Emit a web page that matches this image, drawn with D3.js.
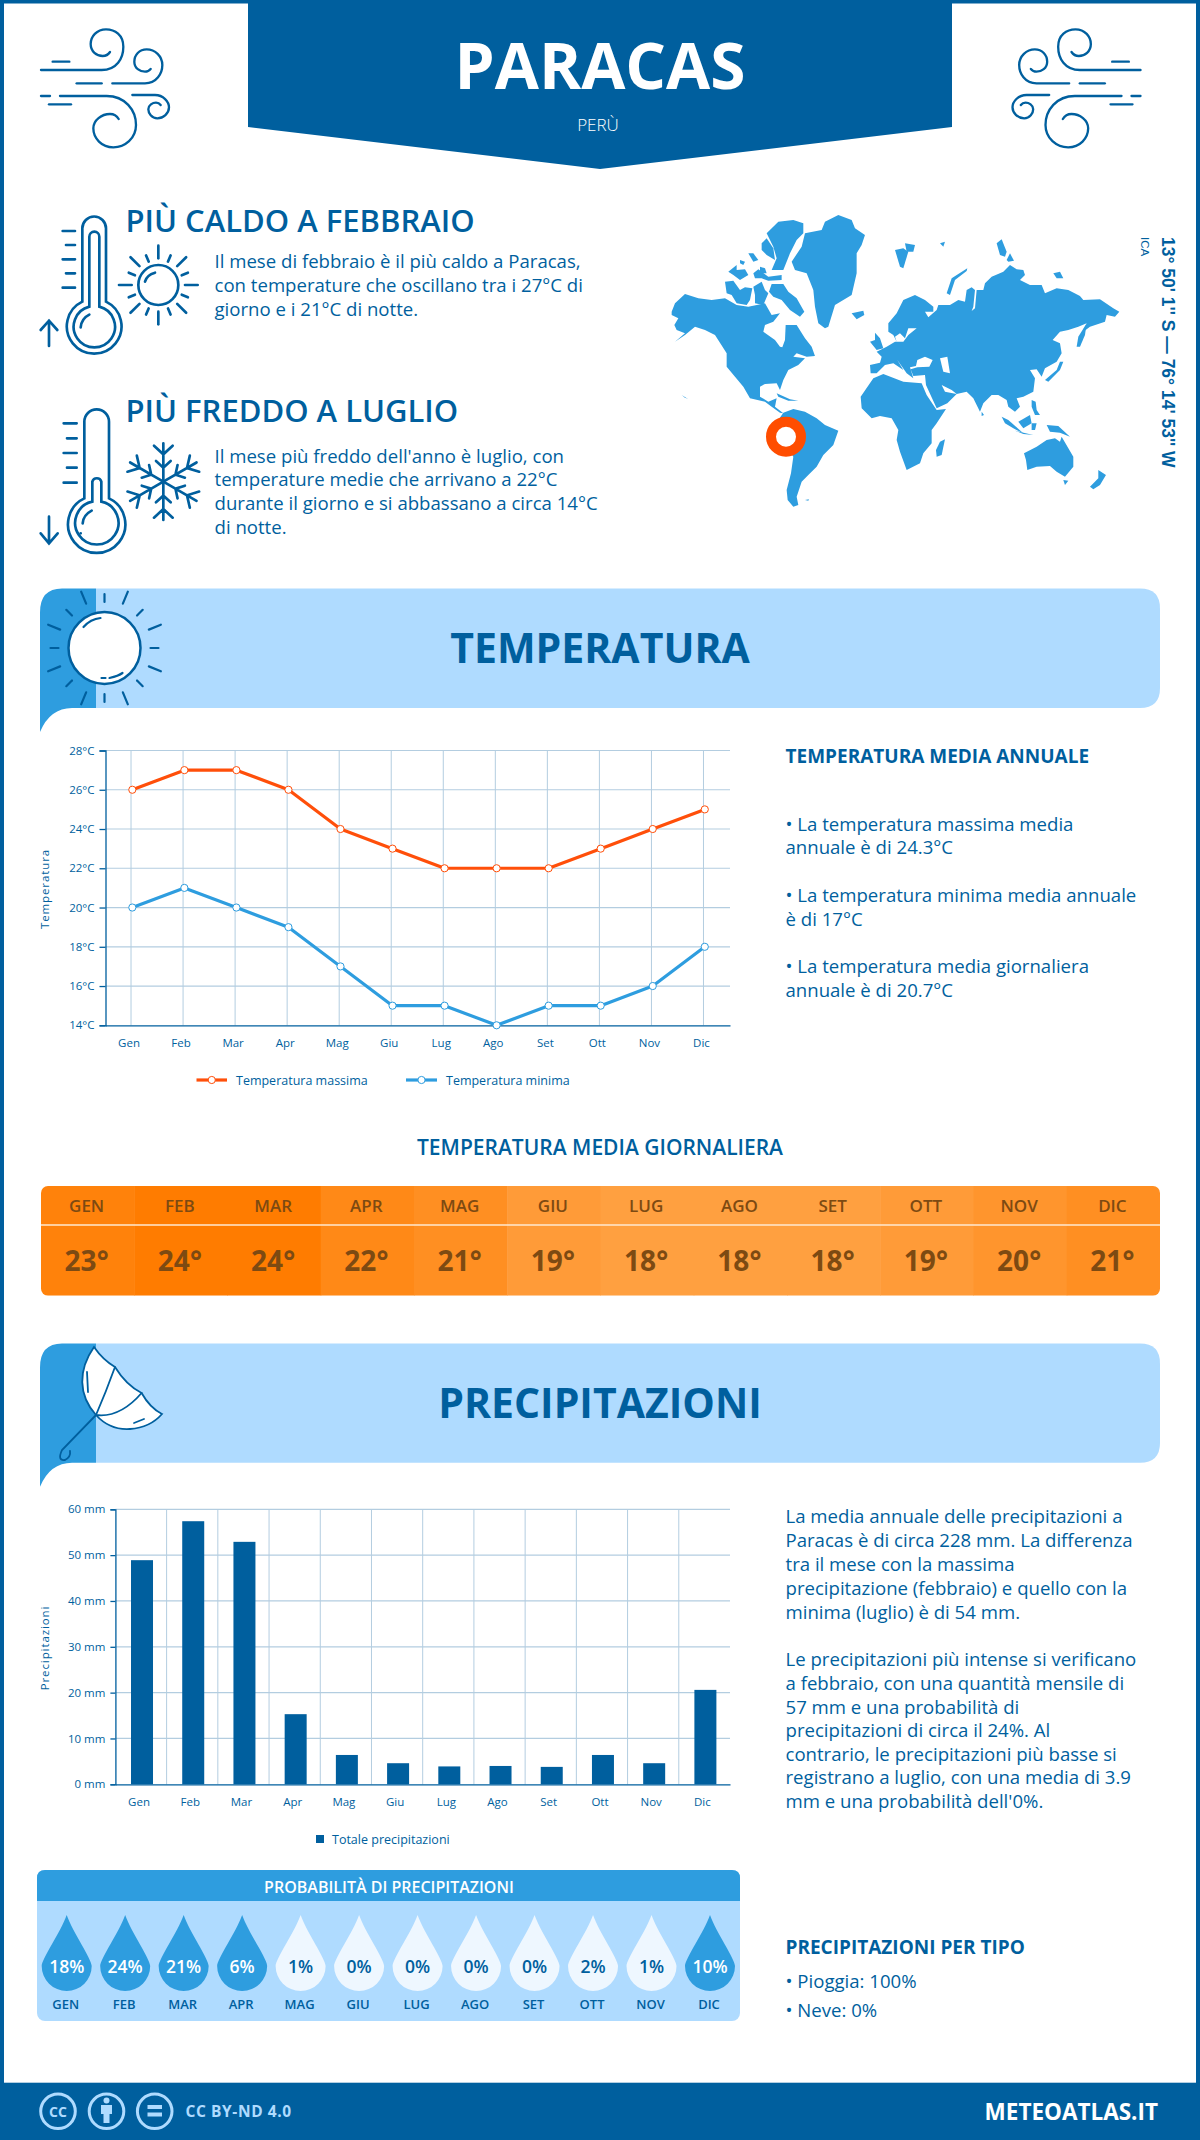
<!DOCTYPE html>
<html>
<head>
<meta charset="utf-8">
<title>Paracas</title>
<script src="https://cdn.jsdelivr.net/npm/d3@7"></script>
<style>
html, body { margin: 0; padding: 0; background: #fff; }
svg { display: block; }
text { font-family: "Open Sans", sans-serif; }
</style>
</head>
<body>
<svg id="page" width="1200" height="2140"></svg>
<script>
// chart values
var months = ["Gen", "Feb", "Mar", "Apr", "Mag", "Giu", "Lug", "Ago", "Set", "Ott", "Nov", "Dic"];
var monthsUpper = ["GEN", "FEB", "MAR", "APR", "MAG", "GIU", "LUG", "AGO", "SET", "OTT", "NOV", "DIC"];
var tempMax = [26, 27, 27, 26, 24, 23, 22, 22, 22, 23, 24, 25];
var tempMin = [20, 21, 20, 19, 17, 15, 15, 14, 15, 15, 16, 18];
var tempDaily = [23, 24, 24, 22, 21, 19, 18, 18, 18, 19, 20, 21];
var rainTotal = [48.9, 57.4, 52.9, 15.3, 6.4, 4.6, 3.9, 4, 3.8, 6.4, 4.6, 20.6];
var rainChance = [18, 24, 21, 6, 1, 0, 0, 0, 0, 2, 1, 10];
var tempTicks = [14, 16, 18, 20, 22, 24, 26, 28];
var rainTicks = [0, 10, 20, 30, 40, 50, 60];

// colors
var dark = "#005f9e";
var mid = "#2e9ddf";
var light = "#afdbff";
var red = "#ff4f0a";
var gridColor = "#b3cde0";

var svg = d3.select("#page");

// adds one piece of text
function addText(parent, x, y, str, size, weight, fill, anchor)
{
	return parent.append("text")
		.attr("x", x)
		.attr("y", y)
		.attr("font-size", size)
		.attr("font-weight", weight)
		.attr("fill", fill)
		.attr("text-anchor", anchor || "start")
		.text(str);
}

// adds several lines, each with its own baseline
function addLines(x, baselines, lines, size)
{
	lines.forEach(function (line, i) {
		addText(svg, x, baselines[i], line, size, 400, dark);
	});
}

// outline icon drawn in zoomed coordinates
function iconGroup(tx, ty, k, width)
{
	return svg.append("g")
		.attr("transform", "translate(" + tx + "," + ty + ") scale(" + k + ")")
		.attr("fill", "none")
		.attr("stroke", dark)
		.attr("stroke-width", width)
		.attr("stroke-linecap", "round");
}

// page frame and header
svg.append("rect").attr("x", 2).attr("y", 1.5).attr("width", 1196).attr("height", 2136)
	.attr("fill", "#fff").attr("stroke", dark).attr("stroke-width", 4);
svg.append("path").attr("d", "M248,0 H952 V127 L600,169 L248,127 Z").attr("fill", dark);
addText(svg, 600, 89, "PARACAS", 64, 700, "#fff", "middle");
addText(svg, 598, 131, "PERÙ", 17, 300, "#fff", "middle");

// wind icons, left one and its mirror
var windPaths = [
	"M33,150 H215 C260,150 280,115 280,80 C280,45 255,28 228,28 C200,28 182,50 182,72 C182,95 200,108 218,108 C228,108 236,102 240,96",
	"M68,125 H118",
	"M140,190 H215",
	"M247,190 H345 C380,190 397,160 397,135 C397,108 375,88 350,88 C328,88 313,105 313,125 C313,145 330,155 345,155 C352,155 358,152 362,147",
	"M33,228 H60",
	"M90,228 H230 C285,228 318,270 318,315 C318,355 285,382 250,382 C215,382 190,355 190,325 C190,300 215,282 240,282 C252,282 262,290 266,297",
	"M57,253 H123",
	"M307,225 H375 C400,225 417,245 417,262 C417,280 400,295 382,295 C365,295 355,280 355,268 C355,255 368,248 378,248 C384,248 389,251 392,255"
];
var windLeft = iconGroup(30, 20, 1 / 3, 7);
var windRight = svg.append("g").attr("transform", "translate(1181.5,0) scale(-1,1)")
	.append("g").attr("transform", "translate(30,20) scale(0.3333)")
	.attr("fill", "none").attr("stroke", dark).attr("stroke-width", 7).attr("stroke-linecap", "round");
windPaths.forEach(function (d) {
	windLeft.append("path").attr("d", d);
	windRight.append("path").attr("d", d);
});

// hot and cold blocks
addText(svg, 125.5, 232, "PIÙ CALDO A FEBBRAIO", 31, 600, dark);
addLines(214.5, [268, 292, 316], [
	"Il mese di febbraio è il più caldo a Paracas,",
	"con temperature che oscillano tra i 27°C di",
	"giorno e i 21°C di notte."
], 18.6);
addText(svg, 125.5, 422, "PIÙ FREDDO A LUGLIO", 31, 600, dark);
addLines(214.5, [462.5, 486, 510, 534], [
	"Il mese più freddo dell'anno è luglio, con",
	"temperature medie che arrivano a 22°C",
	"durante il giorno e si abbassano a circa 14°C",
	"di notte."
], 18.6);

var thermo = iconGroup(30, 200, 1 / 3, 8);
thermo.append("path").attr("d", "M157,305 V85 A35,35 0 0 1 228,85 V305 A82,82 0 1 1 157,305 Z");
thermo.append("path").attr("d", "M178,320 V110 A15,15 0 0 1 208,110 V320 A62,62 0 1 1 178,320 Z");
thermo.append("path").attr("d", "M152,382 Q155,355 178,344");
thermo.append("path").attr("d", "M98,93 H135 M108,135 H135 M98,178 H135 M108,220 H135 M98,263 H135");
thermo.append("path").attr("d", "M57,438 V362 M32,390 L57,362 L82,390");
thermo.append("path").attr("d", "M152,1000 Z");
thermo.append("circle").attr("cx", 385).attr("cy", 255).attr("r", 60);
thermo.append("path").attr("d", "M345,245 Q350,225 375,218");
d3.range(16).forEach(function (i) {
	var a = i * Math.PI / 8;
	var long = i % 2 === 0;
	var r0 = long ? 80 : 76;
	var r1 = long ? 118 : 96;
	thermo.append("line")
		.attr("x1", 385 + r0 * Math.sin(a)).attr("y1", 255 - r0 * Math.cos(a))
		.attr("x2", 385 + r1 * Math.sin(a)).attr("y2", 255 - r1 * Math.cos(a));
});

thermo.append("path").attr("d", "M163,895 V665 A37,37 0 0 1 237,665 V895 A86,86 0 1 1 163,895 Z");
thermo.append("path").attr("d", "M187,905 V845 A14,14 0 0 1 214,845 V905 A65,65 0 1 1 187,905 Z");
thermo.append("path").attr("d", "M158,970 Q160,945 185,932");
thermo.append("path").attr("d", "M101,670 H140 M111,715 H140 M101,759 H140 M111,803 H140 M101,848 H140");
thermo.append("path").attr("d", "M57,950 V1030 M32,1000 L57,1030 L83,1000");
d3.range(6).forEach(function (i) {
	var arm = thermo.append("g").attr("transform", "translate(400,845) rotate(" + (i * 60) + ")");
	arm.append("path").attr("d", "M0,0 V-115 M-28,-108 L0,-82 L28,-108 M-22,-62 L0,-42 L22,-62");
});

// world map, continents traced in zoomed coordinates
var mapWest = [
	[[20,305],[30,280],[60,252],[100,265],[140,270],[180,265],[215,285],[250,290],[300,280],[320,315],[345,310],[325,335],[300,345],[295,365],[330,390],[345,410],[352,412],[360,390],[362,345],[385,345],[395,345],[420,385],[440,410],[450,438],[425,440],[395,430],[385,440],[420,445],[400,465],[370,480],[355,510],[345,540],[335,520],[300,522],[285,530],[285,560],[310,575],[335,565],[330,590],[355,610],[345,608],[320,590],[300,575],[255,565],[235,530],[210,500],[185,470],[185,430],[150,375],[120,360],[90,350],[60,375],[30,395],[60,370],[35,360],[28,345],[40,325],[20,315]],
	[[290,100],[305,85],[325,115],[330,150],[305,135],[290,120]],
	[[305,70],[340,35],[385,30],[415,40],[415,70],[395,90],[375,130],[355,180],[320,180],[335,145],[325,110]],
	[[380,155],[410,110],[420,70],[470,60],[480,35],[520,15],[560,30],[570,55],[600,75],[590,105],[575,130],[575,190],[560,255],[510,285],[490,350],[480,355],[460,340],[450,290],[445,240],[425,190],[390,180]],
	[[560,310],[595,302],[598,315],[575,328]],
	[[190,185],[215,165],[215,180],[240,178],[250,195],[225,210],[205,195]],
	[[180,215],[205,212],[225,240],[240,232],[262,235],[255,270],[245,285],[215,280],[200,255],[185,250]],
	[[265,190],[280,178],[310,200],[350,195],[350,210],[310,212],[290,205],[270,205]],
	[[265,230],[290,215],[300,240],[310,250],[295,285],[270,280],[270,255]],
	[[312,245],[320,222],[355,222],[370,245],[395,265],[418,305],[405,320],[375,300],[350,270],[325,260]],
	[[285,170],[300,175],[305,190],[285,190]],
	[[225,150],[240,155],[235,165],[225,160]],
	[[250,130],[265,130],[280,150],[265,155]],
	[[335,550],[375,568],[400,572],[370,572],[340,560]],
	[[50,555],[70,568],[58,562]],
	[[355,608],[385,597],[420,605],[455,625],[480,645],[520,662],[505,705],[475,735],[455,770],[430,795],[410,815],[395,860],[400,885],[385,890],[368,870],[365,840],[378,790],[385,740],[360,700],[335,660],[340,630]],
	[[420,870],[432,868],[430,872]]
];
var mapEast = [
	[[30,465],[60,458],[65,440],[50,425],[80,410],[105,395],[130,395],[145,375],[170,355],[145,355],[135,385],[120,370],[105,380],[110,395],[100,375],[85,365],[85,340],[110,310],[130,270],[165,255],[195,270],[220,290],[220,305],[195,305],[205,322],[230,300],[235,285],[270,285],[295,270],[315,275],[320,240],[335,232],[345,240],[340,290],[335,303],[345,295],[350,240],[370,240],[375,220],[395,200],[430,185],[450,165],[470,178],[490,180],[495,195],[480,210],[510,225],[545,225],[555,250],[590,235],[625,240],[660,258],[670,270],[720,268],[760,295],[778,305],[765,320],[740,315],[735,335],[690,350],[670,365],[680,340],[655,350],[625,360],[600,365],[578,390],[600,400],[605,430],[590,455],[555,475],[545,500],[530,478],[510,480],[525,505],[520,545],[490,560],[470,565],[480,590],[465,605],[445,590],[440,570],[415,555],[395,555],[370,580],[360,605],[340,565],[320,545],[290,552],[262,580],[230,595],[198,525],[195,495],[160,498],[152,478],[172,472],[208,470],[218,450],[195,440],[172,450],[168,468],[150,472],[160,505],[140,490],[112,450],[130,480],[100,460],[75,465],[50,490],[32,490]],
	[[2,560],[40,505],[70,492],[130,515],[185,520],[200,555],[230,600],[258,597],[230,640],[215,660],[215,700],[190,730],[180,760],[140,780],[120,725],[110,690],[115,660],[95,625],[60,618],[35,625],[5,595]],
	[[240,695],[255,688],[245,735],[230,740],[228,720]],
	[[30,395],[45,390],[45,368],[60,385],[70,415],[50,420]],
	[[105,120],[130,115],[145,125],[130,175],[120,170]],
	[[135,100],[165,105],[160,125],[140,125]],
	[[260,250],[275,205],[322,175],[320,183],[285,210],[270,255]],
	[[240,100],[255,95],[250,110]],
	[[410,100],[425,88],[440,125],[435,140],[420,135]],
	[[440,150],[450,130],[462,152],[445,155]],
	[[580,190],[600,185],[610,205],[590,205]],
	[[555,510],[590,480],[600,455],[610,455],[600,480],[565,515]],
	[[650,410],[655,380],[680,340],[675,375],[660,410]],
	[[425,620],[445,630],[490,670],[460,655],[435,640]],
	[[475,635],[510,615],[515,640],[490,655]],
	[[465,662],[520,675],[490,672]],
	[[515,640],[530,640],[525,660],[515,660]],
	[[515,570],[527,575],[530,600],[540,615],[525,615],[515,590]],
	[[560,645],[595,648],[630,680],[600,668],[570,665]],
	[[492,730],[530,710],[560,690],[585,685],[600,695],[605,680],[640,740],[640,770],[615,800],[590,785],[570,768],[530,770],[502,780],[498,750]],
	[[610,810],[625,812],[615,825]],
	[[715,780],[738,795],[720,825],[700,838],[690,830],[715,805]],
	[[365,605],[372,615],[365,618]]
];
var mapLakes = [
	[[240,445],[262,440],[270,490],[250,485]],
	[[245,525],[275,540],[290,552],[255,545]]
];
var mapLine = d3.line();
var westGroup = svg.append("g").attr("transform", "translate(665,210) scale(0.3333)");
westGroup.selectAll("path").data(mapWest).join("path").attr("d", function (d) { return mapLine(d) + "Z"; }).attr("fill", mid);
var eastGroup = svg.append("g").attr("transform", "translate(860,210) scale(0.3333)");
eastGroup.selectAll("path.land").data(mapEast).join("path").attr("class", "land").attr("d", function (d) { return mapLine(d) + "Z"; }).attr("fill", mid);
eastGroup.selectAll("path.lake").data(mapLakes).join("path").attr("class", "lake").attr("d", function (d) { return mapLine(d) + "Z"; }).attr("fill", "#fff");
svg.append("circle").attr("cx", 786).attr("cy", 436.7).attr("r", 15)
	.attr("fill", "#fff").attr("stroke", "#ff4d00").attr("stroke-width", 10);

// coordinates, rotated along the right edge
var coordGroup = svg.append("g").attr("transform", "translate(1162,237) rotate(90)");
coordGroup.append("text").attr("font-size", 17.5).attr("font-weight", 700).attr("fill", dark)
	.style("font-family", "'Liberation Sans', sans-serif").attr("y", 0).text("13° 50' 1'' S — 76° 14' 53'' W");
var icaGroup = svg.append("g").attr("transform", "translate(1141,237) rotate(90)");
icaGroup.append("text").attr("font-size", 11.5).attr("fill", dark)
	.style("font-family", "'Liberation Sans', sans-serif").text("ICA");

// section banner with dark corner and tail
function banner(top, title, baseline)
{
	var bottom = top + 119.3;
	svg.append("path").attr("d", "M96," + top + " H1140 Q1160," + top + " 1160," + (top + 20) + " V" + (bottom - 20) + " Q1160," + bottom + " 1140," + bottom + " H96 Z").attr("fill", light);
	svg.append("path").attr("d", "M96," + top + " H62 Q40," + top + " 40," + (top + 24) + " V" + (bottom + 24) + " Q50," + bottom + " 72," + bottom + " H96 Z").attr("fill", mid);
	addText(svg, 600, baseline, title, 41, 700, dark, "middle");
}
banner(588.6, "TEMPERATURA", 662.6);
banner(1343.5, "PRECIPITAZIONI", 1418);

// banner sun
var bannerSun = svg.append("g").attr("transform", "translate(104.5,648)").attr("stroke", dark).attr("stroke-linecap", "round").attr("fill", "none");
d3.range(16).forEach(function (i) {
	var a = i * Math.PI / 8;
	var long = i % 2 === 1;
	var r0 = long ? 48 : 46;
	var r1 = long ? 61 : 54;
	bannerSun.append("line").attr("stroke-width", 2.2)
		.attr("x1", r0 * Math.sin(a)).attr("y1", -r0 * Math.cos(a))
		.attr("x2", r1 * Math.sin(a)).attr("y2", -r1 * Math.cos(a));
});
bannerSun.append("circle").attr("r", 36).attr("fill", "#fff").attr("stroke-width", 2.5);
bannerSun.append("path").attr("d", "M-21,-21 Q-14,-29 -4,-30 M-3,30 L1,30 M5,30 Q14,28 18,25").attr("stroke-width", 2.2);

// banner umbrella
var umbrella = svg.append("g").attr("stroke", dark).attr("stroke-width", 1.8).attr("stroke-linecap", "round").attr("fill", "none");
umbrella.append("path").attr("d", "M96,1415 L62,1450 Q57,1461 65,1460 Q71,1457 70,1451");
umbrella.append("path").attr("fill", "#fff").attr("d", "M94,1347 C78,1370 78,1395 96,1415 C105,1425 115,1430 130,1429 C145,1428 155,1422 162,1414 Q150,1408 141.6,1393 Q126,1385 115,1367 Q103,1360 94,1347 Z");
umbrella.append("path").attr("d", "M96,1415 Q120,1418 141.6,1393 M96,1415 Q106,1392 115,1367 M87,1372 L88,1392 M134,1423 L144,1419");

// temperature line chart
var tempX = d3.scaleBand().domain(months).range([105.5, 730]);
var tempY = d3.scaleLinear().domain([14, 28]).range([1025.3, 750.5]);
function tempCx(i) { return tempX(months[i]) + tempX.bandwidth() / 2; }

var tempGrid = svg.append("g").attr("stroke", gridColor);
tempGrid.selectAll("line.h").data(tempTicks.slice(1)).join("line").attr("class", "h")
	.attr("x1", 105.5).attr("x2", 730).attr("y1", function (d) { return tempY(d); }).attr("y2", function (d) { return tempY(d); }).attr("stroke-width", 1.2);
tempGrid.selectAll("line.v").data(months).join("line").attr("class", "v")
	.attr("x1", function (d, i) { return tempCx(i) - 0.5; }).attr("x2", function (d, i) { return tempCx(i) - 0.5; })
	.attr("y1", 750.5).attr("y2", 1025.3).attr("stroke-width", 1);

var tempAxisY = svg.append("g").attr("transform", "translate(105.5,0)")
	.call(d3.axisLeft(tempY).tickValues(tempTicks).tickSize(6).tickPadding(5).tickFormat(function (d) { return d + "°C"; }));
var tempAxisX = svg.append("g").attr("transform", "translate(0,1025.3)")
	.call(d3.axisBottom(tempX).tickSize(0).tickPadding(14));
tempAxisX.selectAll("text").attr("dx", -2.5);

// shared styling for the axes
function styleAxis(axis)
{
	axis.selectAll("path,line").attr("stroke", dark).attr("stroke-width", 1.3);
	axis.selectAll("text").attr("fill", dark).attr("font-size", 11.5).style("font-family", "'Open Sans', sans-serif");
}
styleAxis(tempAxisY);
styleAxis(tempAxisX);

function seriesLine(values, color)
{
	var line = d3.line()
		.x(function (d, i) { return tempCx(i) + 0.8; })
		.y(function (d) { return tempY(d); });
	svg.append("path").attr("d", line(values)).attr("fill", "none").attr("stroke", color).attr("stroke-width", 3.2).attr("stroke-linejoin", "round");
	svg.selectAll(null).data(values).join("circle")
		.attr("cx", function (d, i) { return tempCx(i) + 0.8; })
		.attr("cy", function (d) { return tempY(d); })
		.attr("r", 3.6).attr("fill", "#fff").attr("stroke", color).attr("stroke-width", 1);
}
seriesLine(tempMax, red);
seriesLine(tempMin, mid);

function axisTitle(x, y, str)
{
	addText(svg, 0, 0, str, 11.5, 400, dark, "middle")
		.attr("transform", "translate(" + x + "," + y + ") rotate(-90)")
		.attr("letter-spacing", 0.9);
}
axisTitle(49, 889, "Temperatura");

// line legend
function lineLegend(x0, x1, textX, color, str)
{
	svg.append("line").attr("x1", x0).attr("x2", x1).attr("y1", 1080).attr("y2", 1080).attr("stroke", color).attr("stroke-width", 3.2);
	svg.append("circle").attr("cx", (x0 + x1) / 2).attr("cy", 1080).attr("r", 3.6).attr("fill", "#fff").attr("stroke", color);
	addText(svg, textX, 1084.5, str, 12.5, 400, dark);
}
lineLegend(196.5, 227, 236, red, "Temperatura massima");
lineLegend(406, 437, 446, mid, "Temperatura minima");

// yearly temperature text
addText(svg, 785.5, 763.3, "TEMPERATURA MEDIA ANNUALE", 19, 700, dark);
addLines(785.5, [830.7, 854, 901.7, 925.7, 972.7, 996.7], [
	"• La temperatura massima media",
	"annuale è di 24.3°C",
	"• La temperatura minima media annuale",
	"è di 17°C",
	"• La temperatura media giornaliera",
	"annuale è di 20.7°C"
], 18.6);

// daily temperature strip
addText(svg, 600, 1154.7, "TEMPERATURA MEDIA GIORNALIERA", 21, 600, dark, "middle");
var heatX = d3.scaleBand().domain(months).range([41, 1160]);
var heatColor = d3.scaleLinear().domain([18, 19, 21, 24]).range(["#ffa040", "#ff9b38", "#ff8f22", "#ff7c00"]);
var strip = svg.append("g");
var stripClip = svg.append("clipPath").attr("id", "stripClip");
stripClip.append("rect").attr("x", 41).attr("y", 1186).attr("width", 1119).attr("height", 109.7).attr("rx", 7);
strip.attr("clip-path", "url(#stripClip)");
strip.selectAll("rect").data(tempDaily).join("rect")
	.attr("x", function (d, i) { return heatX(months[i]); })
	.attr("y", 1186).attr("width", heatX.bandwidth() + 0.5).attr("height", 109.7)
	.attr("fill", function (d) { return heatColor(d); });
strip.append("line").attr("x1", 41).attr("x2", 1160).attr("y1", 1225).attr("y2", 1225).attr("stroke", "#ffe9d0").attr("stroke-width", 1.5);
monthsUpper.forEach(function (m, i) {
	var cx = heatX(months[i]) + heatX.bandwidth() / 2 - 1;
	addText(svg, cx, 1211.7, m, 17, 600, "#7d4a12", "middle");
	addText(svg, cx, 1270.7, tempDaily[i] + "°", 28, 700, "#7d4a12", "middle");
});

// rain bar chart
var rainX = d3.scaleBand().domain(months).range([115.4, 730]);
var rainY = d3.scaleLinear().domain([0, 60]).range([1784.3, 1509.3]);
var barWidth = 22;

var rainGrid = svg.append("g").attr("stroke", gridColor);
rainGrid.selectAll("line.h").data(rainTicks.slice(1)).join("line").attr("class", "h")
	.attr("x1", 115.4).attr("x2", 730).attr("y1", function (d) { return rainY(d); }).attr("y2", function (d) { return rainY(d); }).attr("stroke-width", 1.2);
rainGrid.selectAll("line.v").data(months.slice(1)).join("line").attr("class", "v")
	.attr("x1", function (d) { return rainX(d); }).attr("x2", function (d) { return rainX(d); })
	.attr("y1", 1509.3).attr("y2", 1784.3).attr("stroke-width", 1);

svg.selectAll(null).data(rainTotal).join("rect")
	.attr("x", function (d, i) { return rainX(months[i]) + rainX.bandwidth() / 2 - barWidth / 2 + 1; })
	.attr("y", function (d) { return rainY(d); })
	.attr("width", barWidth)
	.attr("height", function (d) { return rainY(0) - rainY(d); })
	.attr("fill", dark);

var rainAxisY = svg.append("g").attr("transform", "translate(115.4,0)")
	.call(d3.axisLeft(rainY).tickValues(rainTicks).tickSize(5).tickPadding(5).tickFormat(function (d) { return d + " mm"; }));
var rainAxisX = svg.append("g").attr("transform", "translate(0,1784.3)")
	.call(d3.axisBottom(rainX).tickSize(0).tickPadding(14));
rainAxisX.selectAll("text").attr("dx", -2);
styleAxis(rainAxisY);
styleAxis(rainAxisX);
axisTitle(49, 1648, "Precipitazioni");

svg.append("rect").attr("x", 316).attr("y", 1835).attr("width", 8).attr("height", 8).attr("fill", dark);
addText(svg, 332, 1843.5, "Totale precipitazioni", 12.5, 400, dark);

// rain text
addLines(785.5, [1523.4, 1546.5, 1570.5, 1594.5, 1618.5, 1665.6, 1689.6, 1713.6, 1736.7, 1760.7, 1784.3, 1808], [
	"La media annuale delle precipitazioni a",
	"Paracas è di circa 228 mm. La differenza",
	"tra il mese con la massima",
	"precipitazione (febbraio) e quello con la",
	"minima (luglio) è di 54 mm.",
	"Le precipitazioni più intense si verificano",
	"a febbraio, con una quantità mensile di",
	"57 mm e una probabilità di",
	"precipitazioni di circa il 24%. Al",
	"contrario, le precipitazioni più basse si",
	"registrano a luglio, con una media di 3.9",
	"mm e una probabilità dell'0%."
], 18.6);
addText(svg, 785.5, 1954.3, "PRECIPITAZIONI PER TIPO", 19, 700, dark);
addLines(785.5, [1988, 2016.6], ["• Pioggia: 100%", "• Neve: 0%"], 18.6);

// rain chance panel with drops
svg.append("rect").attr("x", 37).attr("y", 1870).attr("width", 703).attr("height", 151).attr("rx", 8).attr("fill", light);
svg.append("path").attr("d", "M37,1901 V1878 Q37,1870 45,1870 H732 Q740,1870 740,1878 V1901 Z").attr("fill", mid);
addText(svg, 389, 1892.7, "PROBABILITÀ DI PRECIPITAZIONI", 16, 600, "#fff", "middle");

var dropX = d3.scalePoint().domain(months).range([66.7, 710]);
var dropPath = "M0,-51 C6,-34 25,-7 25,0 A25,25 0 1 1 -25,0 C-25,-7 -6,-34 0,-51 Z";
rainChance.forEach(function (p, i) {
	var cx = dropX(months[i]);
	var strong = p >= 5;
	svg.append("path").attr("d", dropPath).attr("transform", "translate(" + cx + ",1966)")
		.attr("fill", strong ? mid : "#eef7ff");
	addText(svg, cx, 1972.7, p + "%", 17.5, 600, strong ? "#fff" : dark, "middle");
	addText(svg, cx - 1, 2009, monthsUpper[i], 13, 600, dark, "middle");
});

// footer
svg.append("rect").attr("x", 0).attr("y", 2082.7).attr("width", 1200).attr("height", 57.3).attr("fill", dark);
var ccRow = svg.append("g").attr("fill", "none").attr("stroke", light).attr("stroke-width", 3);
[58, 106.5, 154.7].forEach(function (cx) {
	ccRow.append("circle").attr("cx", cx).attr("cy", 2111.3).attr("r", 17.3);
});
addText(svg, 58, 2116.5, "CC", 14, 700, light, "middle");
svg.append("circle").attr("cx", 106.5).attr("cy", 2100.5).attr("r", 3).attr("fill", light);
svg.append("path").attr("d", "M101,2105 H112 V2114 H109.5 V2123 H103.5 V2114 H101 Z").attr("fill", light);
svg.append("rect").attr("x", 147.5).attr("y", 2105).attr("width", 14.5).attr("height", 4).attr("fill", light);
svg.append("rect").attr("x", 147.5).attr("y", 2112.5).attr("width", 14.5).attr("height", 4).attr("fill", light);
addText(svg, 185.5, 2117, "CC BY-ND 4.0", 15.5, 700, light).attr("letter-spacing", 0.6);
addText(svg, 1158, 2119.7, "METEOATLAS.IT", 22.5, 700, "#fff", "end");
</script>
</body>
</html>
